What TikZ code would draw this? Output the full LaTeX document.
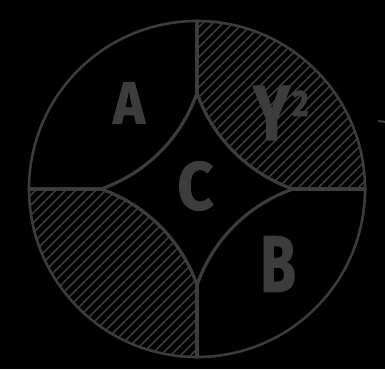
\documentclass[tikz,border=0pt]{standalone}
\usepackage{fontspec}
\usepackage{graphicx}
\setmainfont{Fira Sans}[BoldFeatures={FakeBold=1.5}]
\definecolor{ink}{RGB}{60,60,62}
\tikzset{
  outline/.style={draw=ink, line width=2.6pt},
  divider/.style={draw=ink, line width=3.2pt, line cap=round},
  hatchline/.style={draw=ink, line width=1.5pt},
  lbl/.style={text=ink, inner sep=0pt, font=\bfseries}
}
\begin{document}
\begin{tikzpicture}[x=1pt,y=1pt,line join=round]
\fill[black] (-197,-180) rectangle (188,189);
\useasboundingbox (-197,-180) rectangle (188,189);
\def\R{168}
\def\d{96}
\def\r{155.9}
% hatched lens, top right
\begin{scope}
  \clip (0,\R) -- (0,\d) arc[start angle=199.2,end angle=250.8,radius=\r] -- (\R,0) arc[start angle=0,end angle=90,radius=\R] -- cycle;
  \foreach \k in {-190,-180,...,190} \draw[hatchline] (-10,\k-10) -- (200,\k+200);
\end{scope}
% hatched lens, bottom left
\begin{scope}
  \clip (0,-\R) -- (0,-\d) arc[start angle=19.2,end angle=70.8,radius=\r] -- (-\R,0) arc[start angle=180,end angle=270,radius=\R] -- cycle;
  \foreach \k in {-190,-180,...,190} \draw[hatchline] (-200,\k-200) -- (10,\k+10);
\end{scope}
% outer circle
\draw[outline] (0,0) circle (\R);
% dividers
\coordinate (top) at (0,\R);
\coordinate (bot) at (0,-\R);
\coordinate (lft) at (-\R,0);
\coordinate (rgt) at (\R,0);
\coordinate (tT) at (0,\d);
\coordinate (tB) at (0,-\d);
\coordinate (tL) at (-\d,0);
\coordinate (tR) at (\d,0);
\draw[divider] (top) -- (tT);
\draw[divider] (bot) -- (tB);
\draw[divider] (lft) -- (tL);
\draw[divider] (rgt) -- (tR);
% inner arcs of the star C
\draw[divider] (tT) arc[start angle=-19.2,end angle=-70.8,radius=\r];
\draw[divider] (tT) arc[start angle=199.2,end angle=250.8,radius=\r];
\draw[divider] (tR) arc[start angle=109.2,end angle=160.8,radius=\r];
\draw[divider] (tB) arc[start angle=19.2,end angle=70.8,radius=\r];
% small mark at right edge
\coordinate (m1) at (181,68);
\coordinate (m2) at (189,67);
\draw[ink, line width=2pt] (m1) -- (m2);
% labels
\node[lbl, font=\bfseries\fontsize{60}{60}\selectfont] (A) at (-68,86) {\scalebox{0.9}[1]{A}};
\node[lbl, font=\bfseries\fontsize{68}{68}\selectfont] (C) at (-1.5,3) {\scalebox{0.92}[1]{C}};
\node[lbl, font=\bfseries\fontsize{80}{80}\selectfont] (B) at (81,-75) {\scalebox{0.72}[1]{B}};
\node[lbl, font=\bfseries\fontsize{78}{78}\selectfont, anchor=base west] (Y) at (56,49) {\scalebox{0.8}[1]{Y}\hspace{2pt}\raisebox{24pt}{\fontsize{37}{37}\selectfont\scalebox{0.85}[1]{2}}};
\end{tikzpicture}
\end{document}
